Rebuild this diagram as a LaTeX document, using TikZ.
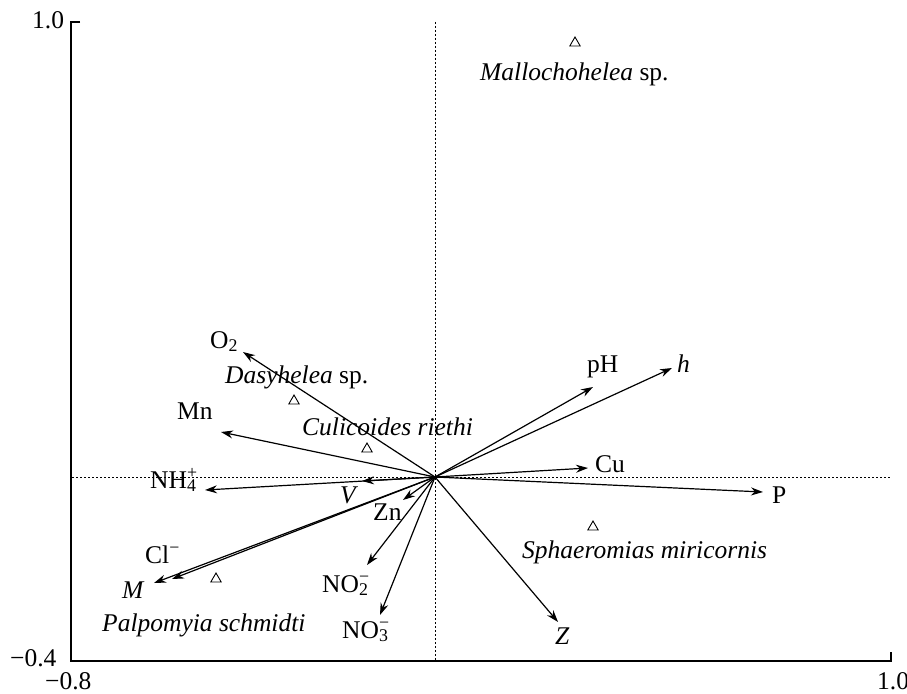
\documentclass[tikz,border=0pt]{standalone}
\usepackage{fontspec}
\setmainfont{Liberation Serif}
\usetikzlibrary{arrows.meta,shapes.geometric}
\newcommand\mysubsup[2]{\rlap{\textsuperscript{#2}}\textsubscript{#1}}
\begin{document}
\begin{tikzpicture}[x=1pt,y=-1pt,
  lbl/.style={anchor=base west,inner sep=0pt,font=\fontsize{25.5}{30}\selectfont},
  vec/.style={line width=1.2pt,-{Stealth[length=12pt,width=8pt]}},
  guide/.style={line width=0.8pt,dash pattern=on 2pt off 2pt},
  frame/.style={line width=1.2pt},
  spc/.style={regular polygon,regular polygon sides=3,draw,line width=0.9pt,minimum size=12pt,inner sep=0pt}]
\useasboundingbox (0,0) rectangle (907,693);
% frame
\coordinate (tl) at (80,22);
\coordinate (lt) at (71,22);
\coordinate (lb) at (71,661);
\coordinate (br) at (891,661);
\coordinate (rt) at (891,652);
\draw[frame] (tl) -- (lt) -- (lb) -- (br) -- (rt);
% guides
\coordinate (hl) at (72,477);
\coordinate (hr) at (891,477);
\coordinate (vt) at (435,22);
\coordinate (vb) at (435,661);
\draw[guide] (hl) -- (hr);
\draw[guide] (vt) -- (vb);
% axis labels
\node[lbl] (y1) at (32,29) {1.0};
\node[lbl] (y0) at (10,666) {−0.4};
\node[lbl] (x0) at (45,689) {−0.8};
\node[lbl] (x1) at (877,689) {1.0};
% vectors
\coordinate (O) at (435,477);
\coordinate (tO2) at (243,352);
\coordinate (tMn) at (221,432);
\coordinate (tNH) at (205,490);
\coordinate (tV) at (362,481);
\coordinate (tZn) at (403,500);
\coordinate (tCl) at (172,579);
\coordinate (tM) at (154,583);
\coordinate (tNO2) at (367,565);
\coordinate (tNO3) at (380,615);
\coordinate (tZ) at (558,622);
\coordinate (tP) at (763,492);
\coordinate (tCu) at (588,468);
\coordinate (tpH) at (593,387);
\coordinate (th) at (672,368);
\foreach \t in {tO2,tMn,tNH,tV,tZn,tCl,tM,tNO2,tNO3,tZ,tP,tCu,tpH,th}
  \draw[vec] (O) -- (\t);
% vector labels
\node[lbl] (lO2) at (210,348) {O\textsubscript{2}};
\node[lbl] (lMn) at (177,419) {Mn};
\node[lbl] (lNH) at (150,488) {NH\mysubsup{4}{+}};
\node[lbl] (lV) at (340,503) {\textit{V}};
\node[lbl] (lZn) at (373,520) {Zn};
\node[lbl] (lCl) at (145,563) {Cl\textsuperscript{−}};
\node[lbl] (lM) at (122,598) {\textit{M}};
\node[lbl] (lNO2) at (322,592) {NO\mysubsup{2}{−}};
\node[lbl] (lNO3) at (342,638) {NO\mysubsup{3}{−}};
\node[lbl] (lZ) at (555,644) {\textit{Z}};
\node[lbl] (lP) at (772,503) {P};
\node[lbl] (lCu) at (595,472) {Cu};
\node[lbl] (lpH) at (587,372) {pH};
\node[lbl] (lh) at (677,372) {\textit{h}};
% species
\node[spc] (sMal) at (575,43) {};
\node[spc] (sDas) at (294,401) {};
\node[spc] (sCul) at (367,449) {};
\node[spc] (sPal) at (216,579) {};
\node[spc] (sSph) at (593,527) {};
\node[lbl] (nMal) at (480,80) {\textit{Mallochohelea} sp.};
\node[lbl] (nDas) at (225,383) {\textit{Dasyhelea} sp.};
\node[lbl] (nCul) at (302,435) {\textit{Culicoides riethi}};
\node[lbl] (nPal) at (102,631) {\textit{Palpomyia schmidti}};
\node[lbl] (nSph) at (522,558) {\textit{Sphaeromias miricornis}};
\end{tikzpicture}
\end{document}
